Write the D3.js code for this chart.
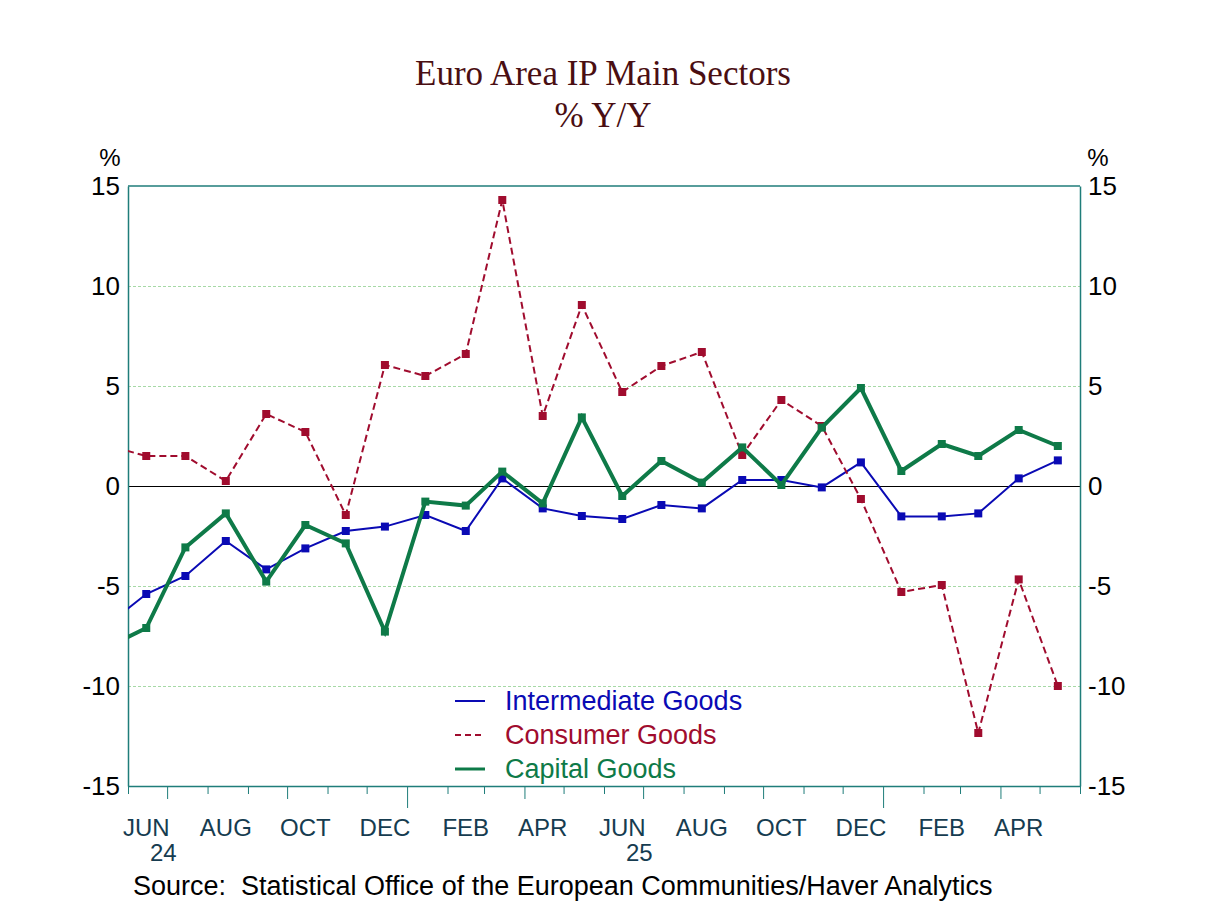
<!DOCTYPE html>
<html>
<head>
<meta charset="utf-8">
<script src="https://cdn.jsdelivr.net/npm/d3@7/dist/d3.min.js"></script>
<style>
  body { margin: 0; background: #fff; }
  svg { display: block; }
</style>
</head>
<body>
<svg id="chart"></svg>
<script>
// monthly observations, May 2024 .. May 2026 (first one sits just left of the plot and is clipped)
const months = [
  "2024-05", "2024-06", "2024-07", "2024-08", "2024-09", "2024-10", "2024-11", "2024-12",
  "2025-01", "2025-02", "2025-03", "2025-04", "2025-05", "2025-06", "2025-07", "2025-08",
  "2025-09", "2025-10", "2025-11", "2025-12", "2026-01", "2026-02", "2026-03", "2026-04", "2026-05"
];
const intermediate = [
  -7.0, -5.4, -4.5, -2.75, -4.17, -3.12, -2.25, -2.03,
  -1.45, -2.25, 0.38, -1.12, -1.5, -1.65, -0.95, -1.12,
  0.3, 0.3, -0.07, 1.18, -1.52, -1.52, -1.37, 0.38, 1.28
];
const consumer = [
  2.05, 1.5, 1.5, 0.25, 3.6, 2.7, -1.45, 6.05,
  5.5, 6.6, 14.3, 3.5, 9.05, 4.7, 6.0, 6.7,
  1.55, 4.3, 3.0, -0.65, -5.3, -4.95, -12.35, -4.67, -10.0
];
const capital = [
  -8.1, -7.1, -3.07, -1.37, -4.78, -1.95, -2.87, -7.28,
  -0.78, -0.98, 0.72, -0.87, 3.43, -0.5, 1.25, 0.17,
  1.93, 0.05, 2.92, 4.9, 0.75, 2.1, 1.5, 2.8, 2.0
];
const yTicks = [-15, -10, -5, 0, 5, 10, 15];
const monthLabels = ["2024-06", "2024-08", "2024-10", "2024-12", "2025-02", "2025-04",
                     "2025-06", "2025-08", "2025-10", "2025-12", "2026-02", "2026-04"];
const yearLabels = [["2024-06", "24"], ["2025-06", "25"]];

const width = 1208;
const height = 906;
const plotLeft = 128, plotRight = 1080, plotTop = 186, plotBottom = 786;

const svg = d3.select("#chart").attr("width", width).attr("height", height);

const parseMonth = d3.timeParse("%Y-%m");
const midMonth = (s) => d3.timeDay.offset(parseMonth(s), 14);

const x = d3.scaleTime()
  .domain([new Date(2024, 5, 1), new Date(2026, 5, 1)])
  .range([plotLeft, plotRight]);
const y = d3.scaleLinear().domain([-15, 15]).range([plotBottom, plotTop]);

const teal = "#1f7d7a";
const sans = "'Liberation Sans', Arial, sans-serif";

// title
[["Euro Area IP Main Sectors", 85], ["% Y/Y", 127]].forEach(([t, ty]) => {
  svg.append("text")
    .attr("x", 603).attr("y", ty)
    .attr("text-anchor", "middle")
    .style("font-family", "'Liberation Serif', 'Times New Roman', serif")
    .style("font-size", "35px")
    .style("fill", "#4a0e12")
    .text(t);
});

// gridlines
svg.append("g")
  .selectAll("line")
  .data(yTicks.filter((d) => d !== 0 && d !== 15 && d !== -15))
  .enter()
  .append("line")
  .attr("x1", plotLeft).attr("x2", plotRight)
  .attr("y1", (d) => y(d) + 0.5).attr("y2", (d) => y(d) + 0.5)
  .attr("stroke", "#a6d9a6")
  .attr("stroke-width", 1)
  .attr("stroke-dasharray", "3,2");

svg.append("line")
  .attr("x1", plotLeft).attr("x2", plotRight)
  .attr("y1", y(0) + 0.5).attr("y2", y(0) + 0.5)
  .attr("stroke", "#000").attr("stroke-width", 1);

// y axes
const yFmt = (d) => String(d);
const yAxisLeft = svg.append("g")
  .attr("transform", `translate(${plotLeft},0)`)
  .call(d3.axisLeft(y).tickValues(yTicks).tickFormat(yFmt).tickSize(0).tickPadding(8));
const yAxisRight = svg.append("g")
  .attr("transform", `translate(${plotRight},0)`)
  .call(d3.axisRight(y).tickValues(yTicks).tickFormat(yFmt).tickSize(0).tickPadding(8));
[yAxisLeft, yAxisRight].forEach((g) => {
  g.select(".domain").attr("stroke", teal).attr("stroke-width", 1.5);
  g.selectAll("text")
    .style("font-family", sans)
    .style("font-size", "26px")
    .style("fill", "#000");
});

svg.append("text").attr("x", 110).attr("y", 166).attr("text-anchor", "middle")
  .style("font-family", sans).style("font-size", "24px")
  .text("%");
svg.append("text").attr("x", 1098).attr("y", 166).attr("text-anchor", "middle")
  .style("font-family", sans).style("font-size", "24px")
  .text("%");

// top frame
svg.append("line")
  .attr("x1", plotLeft).attr("x2", plotRight)
  .attr("y1", plotTop).attr("y2", plotTop)
  .attr("stroke", teal).attr("stroke-width", 1.5);

// x axis, month ticks; quarters longer, January longest
const xAxis = svg.append("g")
  .attr("transform", `translate(0,${plotBottom})`)
  .call(
    d3.axisBottom(x)
      .ticks(d3.timeMonth.every(1))
      .tickFormat("")
      .tickSizeOuter(0)
  );
xAxis.select(".domain").attr("stroke", teal).attr("stroke-width", 1.5);
xAxis.selectAll(".tick line")
  .attr("stroke", teal)
  .attr("y2", (d) => (d.getMonth() === 0 ? 22 : d.getMonth() % 3 === 0 ? 13 : 8));

svg.append("g")
  .selectAll("text")
  .data(monthLabels)
  .enter()
  .append("text")
  .attr("x", (d) => x(midMonth(d)))
  .attr("y", 836)
  .attr("text-anchor", "middle")
  .style("font-family", sans)
  .style("font-size", "24px")
  .style("fill", "#163c50")
  .text((d) => d3.timeFormat("%b")(parseMonth(d)).toUpperCase());

svg.append("g")
  .selectAll("text")
  .data(yearLabels)
  .enter()
  .append("text")
  .attr("x", (d) => x(midMonth(d[0])) + 17)
  .attr("y", 861)
  .attr("text-anchor", "middle")
  .style("font-family", sans)
  .style("font-size", "24px")
  .style("fill", "#163c50")
  .text((d) => d[1]);

// series
svg.append("clipPath").attr("id", "plot-clip")
  .append("rect")
  .attr("x", plotLeft).attr("y", plotTop)
  .attr("width", plotRight - plotLeft).attr("height", plotBottom - plotTop);

const series = [
  { name: "Intermediate Goods", values: intermediate, color: "#0a0ab4", width: 2, dash: null },
  { name: "Consumer Goods", values: consumer, color: "#a00c2e", width: 2, dash: "7,4" },
  { name: "Capital Goods", values: capital, color: "#0e7a48", width: 4, dash: null }
];

const line = d3.line()
  .x((d) => x(d.date))
  .y((d) => y(d.value));

const plot = svg.append("g").attr("clip-path", "url(#plot-clip)");

series.forEach((s) => {
  const pts = months.map((m, i) => ({ date: midMonth(m), value: s.values[i] }));
  plot.append("path")
    .datum(pts)
    .attr("d", line)
    .attr("fill", "none")
    .attr("stroke", s.color)
    .attr("stroke-width", s.width)
    .attr("stroke-dasharray", s.dash)
    .attr("stroke-linejoin", "miter");
  plot.selectAll(null)
    .data(pts.filter((d) => d.date >= x.domain()[0]))
    .enter()
    .append("rect")
    .attr("x", (d) => x(d.date) - 4)
    .attr("y", (d) => y(d.value) - 4)
    .attr("width", 8)
    .attr("height", 8)
    .attr("fill", s.color);
});

// legend
const legend = svg.append("g").attr("transform", "translate(455,701)");
series.forEach((s, i) => {
  legend.append("line")
    .attr("x1", 0).attr("x2", 30)
    .attr("y1", i * 34).attr("y2", i * 34)
    .attr("stroke", s.color)
    .attr("stroke-width", s.width === 4 ? 3 : 2)
    .attr("stroke-dasharray", s.dash ? "6,4" : null);
  legend.append("text")
    .attr("x", 50).attr("y", i * 34 + 9)
    .style("font-family", sans)
    .style("font-size", "27px")
    .style("fill", s.color)
    .text(s.name);
});

// source
svg.append("text")
  .attr("x", 133).attr("y", 895)
  .style("font-family", sans)
  .style("font-size", "27px")
  .style("fill", "#000")
  .style("white-space", "pre")
  .text("Source:  Statistical Office of the European Communities/Haver Analytics");
</script>
</body>
</html>
